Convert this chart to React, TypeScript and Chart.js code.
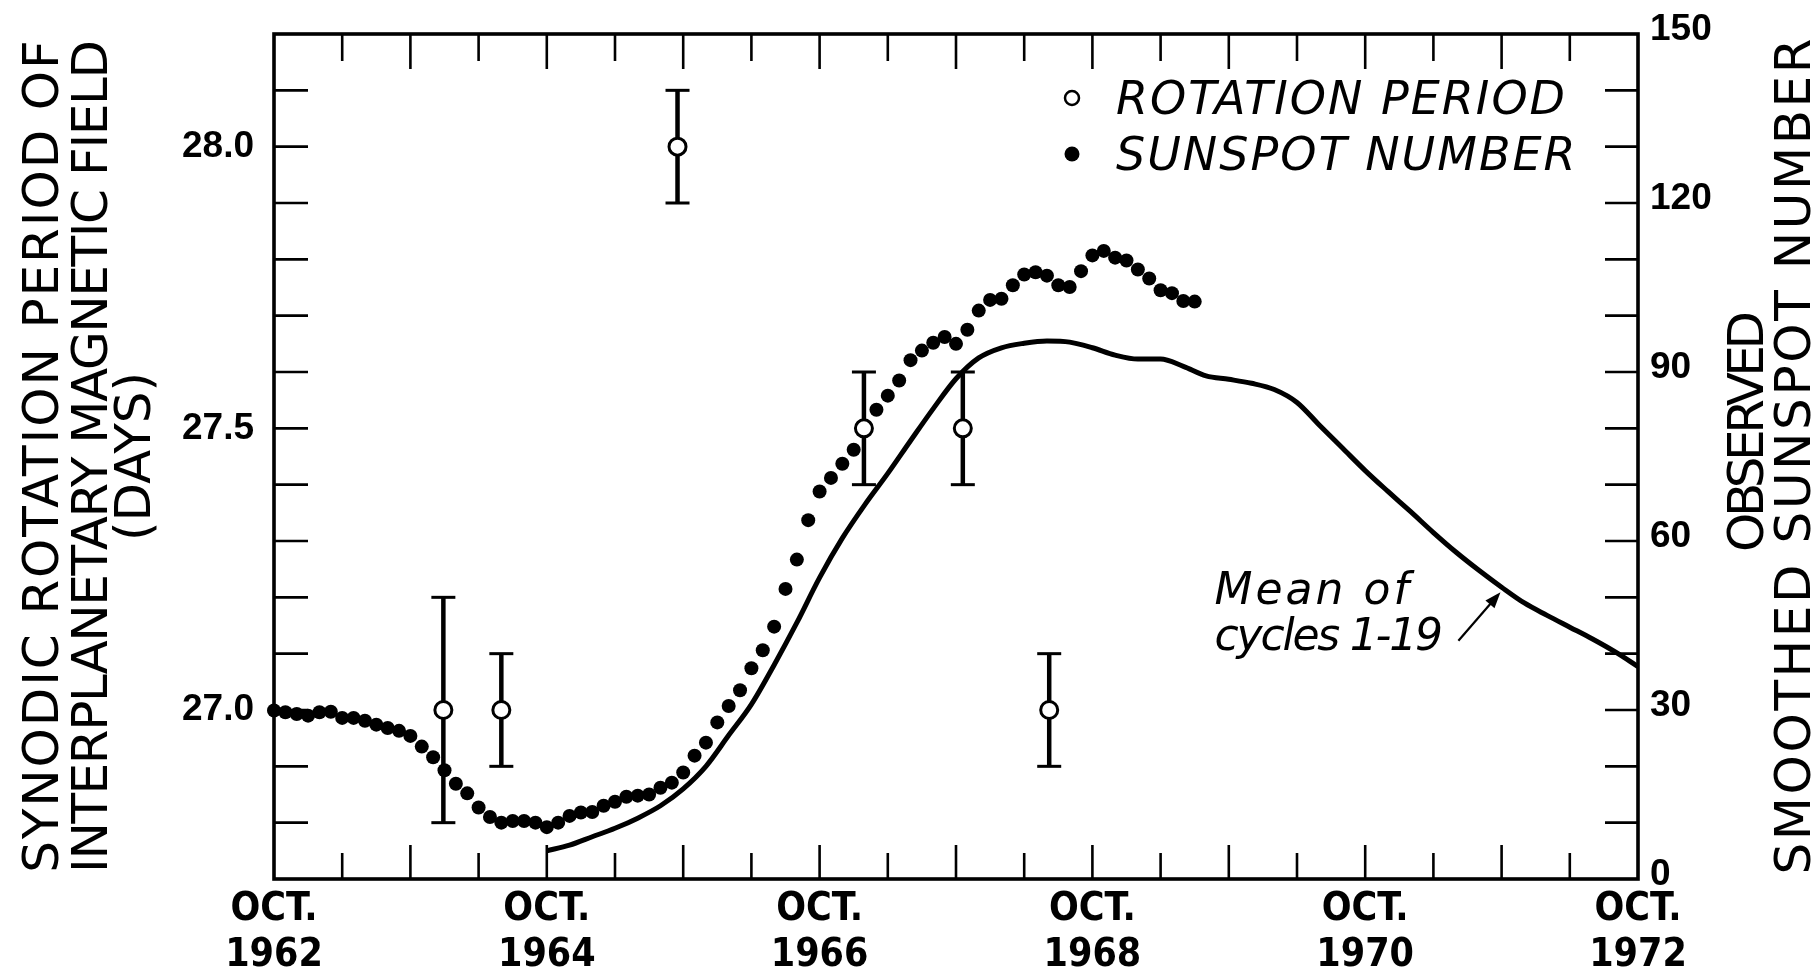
import React, { useEffect, useRef } from 'react';
import { Chart, registerables } from 'chart.js';

Chart.register(...registerables);

const FONT = "'DejaVu Sans', 'Noto Sans', sans-serif";
const NUM_FONT = "'Liberation Sans', 'DejaVu Sans', sans-serif";
const X_FONT = "'Liberation Sans Narrow', 'DejaVu Sans Condensed', 'Liberation Sans', sans-serif";

// ---- x axis: months counted from October 1962 ----
const X_MIN_MONTH = 0;
const X_MAX_MONTH = 120;
const X_TICK_STEP = 6;
const X_LABEL_MONTHS = [0, 24, 48, 72, 96, 120];
const X_TICK_LABELS = [
  ['OCT.', '1962'],
  ['OCT.', '1964'],
  ['OCT.', '1966'],
  ['OCT.', '1968'],
  ['OCT.', '1970'],
  ['OCT.', '1972'],
];

// ---- left axis: rotation period (days) ----
const LEFT_MIN = 26.7;
const LEFT_MAX = 28.2;
const LEFT_STEP = 0.1;
const LEFT_LABEL_VALUES = [27.0, 27.5, 28.0];
const LEFT_TICK_LABELS = ['27.0', '27.5', '28.0'];

// ---- right axis: smoothed sunspot number ----
const RIGHT_MIN = 0;
const RIGHT_MAX = 150;
const RIGHT_STEP = 10;
const RIGHT_LABEL_VALUES = [0, 30, 60, 90, 120, 150];
const RIGHT_TICK_LABELS = ['0', '30', '60', '90', '120', '150'];

// ---- rotation period points (open circles with error bars) ----
const ROT_MONTHS = [14.9, 20.0, 35.5, 51.9, 60.6, 68.2];
const ROT_DAYS = [27.0, 27.0, 28.0, 27.5, 27.5, 27.0];
const ROT_ERR = [0.2, 0.1, 0.1, 0.1, 0.1, 0.1];

// ---- observed smoothed sunspot number, monthly from Oct 1962 ----
const SUNSPOT = [
  29.9, 29.6, 29.3, 29.0, 29.6, 29.7, 28.6, 28.6, 28.1, 27.4,
  26.8, 26.3, 25.4, 23.5, 21.6, 19.3, 16.9, 15.2, 12.7, 11.0,
  10.0, 10.3, 10.3, 10.0, 9.2, 10.0, 11.2, 11.8, 11.9, 13.0,
  13.7, 14.6, 14.8, 15.0, 16.2, 17.1, 18.9, 21.9, 24.2, 27.8,
  30.7, 33.5, 37.4, 40.6, 44.8, 51.5, 56.7, 63.7, 68.8, 71.2,
  73.7, 76.2, 80.2, 83.3, 85.8, 88.5, 92.1, 93.8, 95.2, 96.2,
  95.0, 97.5, 100.9, 102.8, 103.0, 105.4, 107.3, 107.7, 107.1, 105.4,
  105.1, 107.9, 110.7, 111.5, 110.3, 109.8, 108.2, 106.6, 104.5, 104.0,
  102.6, 102.5,
];

// ---- mean of cycles 1-19 ----
const MEAN_MONTHS = [
  24, 26, 28, 30, 32, 34, 36, 38, 40, 42,
  44, 46, 48, 50, 52, 54, 56, 58, 60, 62,
  64, 66, 68, 70, 72, 74, 76, 78, 80, 82,
  84, 86, 88, 90, 92, 94, 96, 98, 100, 102,
  104, 106, 108, 110, 112, 114, 116, 118, 120,
];
const MEAN_VALUES = [
  5.0, 6.0, 7.5, 9.0, 10.8, 13.0, 16.0, 20.0, 25.5, 31.0,
  38.0, 45.5, 53.5, 60.5, 66.5, 72.0, 77.8, 83.5, 88.8, 92.5,
  94.3, 95.1, 95.5, 95.3, 94.3, 93.0, 92.3, 92.3, 91.0, 89.3,
  88.7, 88.0, 86.9, 84.6, 80.5, 76.5, 72.5, 68.8, 65.2, 61.5,
  58.0, 54.8, 51.8, 49.0, 46.8, 44.7, 42.6, 40.3, 37.7,
];

// ---- texts ----
const LEFT_TITLE = ['SYNODIC ROTATION PERIOD OF', 'INTERPLANETARY MAGNETIC FIELD', '(DAYS)'];
const RIGHT_TITLE = ['OBSERVED', 'SMOOTHED SUNSPOT NUMBER'];
const LEGEND_LABELS = ['ROTATION PERIOD', 'SUNSPOT NUMBER'];
const NOTE_LINES = ['Mean of', 'cycles 1-19'];
// annotation anchors in data units (month, sunspot number)
const NOTE_TEXT_POS = [[82.75, 48.8], [82.75, 40.6]];
const NOTE_ARROW = [[104.2, 42.3], [107.9, 50.9]];

function findLabel(v: number, values: number[], labels: any[]) {
  for (let i = 0; i < values.length; i++) {
    if (Math.abs(values[i] - v) < 1e-6) return labels[i];
  }
  return '';
}

function fixBox(size: number, horizontal: boolean) {
  return (s: any) => {
    if (horizontal) s.height = size;
    else s.width = size;
    s.paddingTop = 0;
    s.paddingBottom = 0;
    s.paddingLeft = 0;
    s.paddingRight = 0;
  };
}

const framePlugin = {
  id: 'frameTicks',
  beforeDatasetsDraw(chart: any) {
    const { ctx, chartArea: a, scales } = chart;
    ctx.save();
    ctx.strokeStyle = '#000';
    ctx.lineCap = 'butt';
    const seg = (x1: number, y1: number, x2: number, y2: number) => {
      ctx.beginPath();
      ctx.moveTo(x1, y1);
      ctx.lineTo(x2, y2);
      ctx.stroke();
    };
    ctx.lineWidth = 2.6;
    const xs = scales.x;
    for (const t of xs.ticks) {
      const v = t.value;
      if (v <= xs.min + 1e-6 || v >= xs.max - 1e-6) continue;
      const px = xs.getPixelForValue(v);
      const major = Math.round(v) % 12 === 0;
      seg(px, a.bottom, px, a.bottom - (major ? 34 : 26));
      seg(px, a.top, px, a.top + (major ? 35 : 27));
    }
    const yl = scales.y;
    for (const t of yl.ticks) {
      const v = t.value;
      if (v <= yl.min + 1e-6 || v >= yl.max - 1e-6) continue;
      const py = yl.getPixelForValue(v);
      seg(a.left, py, a.left + 34, py);
    }
    const yr = scales.y1;
    for (const t of yr.ticks) {
      const v = t.value;
      if (v <= yr.min + 1e-6 || v >= yr.max - 1e-6) continue;
      const py = yr.getPixelForValue(v);
      seg(a.right, py, a.right - 33, py);
    }
    ctx.lineWidth = 3.6;
    ctx.strokeRect(a.left, a.top, a.right - a.left, a.bottom - a.top);

    // error bars of the rotation-period points
    for (let i = 0; i < ROT_MONTHS.length; i++) {
      const px = xs.getPixelForValue(ROT_MONTHS[i]);
      const top = yl.getPixelForValue(ROT_DAYS[i] + ROT_ERR[i]);
      const bot = yl.getPixelForValue(ROT_DAYS[i] - ROT_ERR[i]);
      ctx.lineWidth = 4.5;
      seg(px, top, px, bot);
      ctx.lineWidth = 3;
      seg(px - 12, top, px + 12, top);
      seg(px - 12, bot, px + 12, bot);
    }
    ctx.restore();
  },
  afterDraw(chart: any) {
    const { ctx, chartArea: a, scales } = chart;
    ctx.save();
    ctx.fillStyle = '#000';
    ctx.strokeStyle = '#000';
    const midY = (a.top + a.bottom) / 2;

    const vText = (text: string, cx: number, cy: number, spacing: number) => {
      ctx.save();
      ctx.translate(cx, cy);
      ctx.rotate(-Math.PI / 2);
      (ctx as any).letterSpacing = spacing + 'px';
      ctx.textAlign = 'center';
      ctx.textBaseline = 'middle';
      ctx.fillText(text, spacing / 2, 0);
      ctx.restore();
    };
    ctx.font = `50px ${FONT}`;
    vText(LEFT_TITLE[0], 45, midY, 1.9);
    vText(LEFT_TITLE[1], 94, midY, -1.4);
    vText(LEFT_TITLE[2], 137, midY, 0);
    vText(RIGHT_TITLE[0], 1750, midY - 25, -4.5);
    vText(RIGHT_TITLE[1], 1797, midY, 2.6);

    // legend (inside the plot, upper right)
    const mx = a.right - 566;
    const tx = a.right - 522;
    const r1 = a.top + 64;
    const r2 = a.top + 120;
    ctx.lineWidth = 2.5;
    ctx.beginPath();
    ctx.arc(mx, r1, 7, 0, Math.PI * 2);
    ctx.fillStyle = '#fff';
    ctx.fill();
    ctx.stroke();
    ctx.fillStyle = '#000';
    ctx.beginPath();
    ctx.arc(mx, r2, 7.5, 0, Math.PI * 2);
    ctx.fill();
    ctx.font = `italic 46px ${FONT}`;
    (ctx as any).letterSpacing = '2px';
    ctx.textAlign = 'left';
    ctx.textBaseline = 'alphabetic';
    ctx.fillText(LEGEND_LABELS[0], tx, r1 + 16);
    ctx.fillText(LEGEND_LABELS[1], tx, r2 + 16);

    // annotation "Mean of cycles 1-19"
    const xs = scales.x;
    const yr = scales.y1;
    ctx.font = `italic 44px ${FONT}`;
    const spacings = [3, -2.2];
    for (let i = 0; i < NOTE_LINES.length; i++) {
      (ctx as any).letterSpacing = spacings[i] + 'px';
      ctx.fillText(
        NOTE_LINES[i],
        xs.getPixelForValue(NOTE_TEXT_POS[i][0]),
        yr.getPixelForValue(NOTE_TEXT_POS[i][1])
      );
    }
    (ctx as any).letterSpacing = '0px';
    const ax1 = xs.getPixelForValue(NOTE_ARROW[0][0]);
    const ay1 = yr.getPixelForValue(NOTE_ARROW[0][1]);
    const ax2 = xs.getPixelForValue(NOTE_ARROW[1][0]);
    const ay2 = yr.getPixelForValue(NOTE_ARROW[1][1]);
    const ang = Math.atan2(ay2 - ay1, ax2 - ax1);
    ctx.lineWidth = 2.2;
    ctx.beginPath();
    ctx.moveTo(ax1, ay1);
    ctx.lineTo(ax2 - 10 * Math.cos(ang), ay2 - 10 * Math.sin(ang));
    ctx.stroke();
    ctx.beginPath();
    ctx.moveTo(ax2, ay2);
    ctx.lineTo(ax2 - 16 * Math.cos(ang) + 6 * Math.sin(ang), ay2 - 16 * Math.sin(ang) - 6 * Math.cos(ang));
    ctx.lineTo(ax2 - 16 * Math.cos(ang) - 6 * Math.sin(ang), ay2 - 16 * Math.sin(ang) + 6 * Math.cos(ang));
    ctx.closePath();
    ctx.fill();
    ctx.restore();
  },
};

export default function App() {
  const ref = useRef<HTMLCanvasElement>(null);

  useEffect(() => {
    const canvas = ref.current;
    if (!canvas) return;
    const chart = new Chart(canvas, {
      type: 'scatter',
      data: {
        datasets: [
          {
            label: 'ROTATION PERIOD',
            yAxisID: 'y',
            data: ROT_MONTHS.map((m, i) => ({ x: m, y: ROT_DAYS[i] })),
            pointRadius: 8.5,
            pointBackgroundColor: '#fff',
            pointBorderColor: '#000',
            pointBorderWidth: 3,
            showLine: false,
            clip: false,
          } as any,
          {
            label: 'SUNSPOT NUMBER',
            yAxisID: 'y1',
            data: SUNSPOT.map((v, i) => ({ x: X_MIN_MONTH + i, y: v })),
            pointRadius: 7,
            pointBackgroundColor: '#000',
            pointBorderColor: '#000',
            pointBorderWidth: 0,
            showLine: false,
            clip: false,
          } as any,
          {
            label: 'Mean of cycles 1-19',
            type: 'line',
            yAxisID: 'y1',
            data: MEAN_MONTHS.map((m, i) => ({ x: m, y: MEAN_VALUES[i] })),
            borderColor: '#000',
            borderWidth: 5,
            pointRadius: 0,
            cubicInterpolationMode: 'monotone',
            fill: false,
          } as any,
        ],
      },
      options: {
        responsive: false,
        animation: false,
        devicePixelRatio: 1,
        events: [],
        layout: { autoPadding: false, padding: { top: 34, left: 0, right: 0, bottom: 0 } },
        plugins: {
          legend: { display: false },
          tooltip: { enabled: false },
        },
        scales: {
          x: {
            type: 'linear',
            position: 'bottom',
            min: X_MIN_MONTH,
            max: X_MAX_MONTH,
            grid: { display: false, drawTicks: false },
            border: { display: false },
            ticks: {
              stepSize: X_TICK_STEP,
              autoSkip: false,
              maxRotation: 0,
              minRotation: 0,
              padding: 7,
              color: '#000',
              font: { family: X_FONT, size: 39, weight: 'bold', lineHeight: 1.2 },
              callback: (v: any) => findLabel(Number(v), X_LABEL_MONTHS, X_TICK_LABELS),
            },
            afterFit: fixBox(95, true),
          },
          y: {
            type: 'linear',
            position: 'left',
            min: LEFT_MIN,
            max: LEFT_MAX,
            grid: { display: false, drawTicks: false },
            border: { display: false },
            ticks: {
              stepSize: LEFT_STEP,
              autoSkip: false,
              padding: 20,
              color: '#000',
              font: { family: NUM_FONT, size: 37, weight: 'bold' },
              callback: (v: any) => findLabel(Number(v), LEFT_LABEL_VALUES, LEFT_TICK_LABELS),
            },
            afterFit: fixBox(274, false),
          },
          y1: {
            type: 'linear',
            position: 'right',
            min: RIGHT_MIN,
            max: RIGHT_MAX,
            grid: { display: false, drawTicks: false },
            border: { display: false },
            ticks: {
              stepSize: RIGHT_STEP,
              autoSkip: false,
              padding: 12,
              labelOffset: -4,
              color: '#000',
              font: { family: NUM_FONT, size: 37, weight: 'bold' },
              callback: (v: any) => findLabel(Number(v), RIGHT_LABEL_VALUES, RIGHT_TICK_LABELS),
            },
            afterFit: fixBox(181, false),
          },
        },
      } as any,
      plugins: [framePlugin],
    });
    return () => chart.destroy();
  }, []);

  return (
    <div style={{ position: 'fixed', left: 0, top: 0, width: 1819, height: 974, background: '#fff' }}>
      <canvas ref={ref} width={1819} height={974} style={{ display: 'block', width: 1819, height: 974 }} />
    </div>
  );
}
